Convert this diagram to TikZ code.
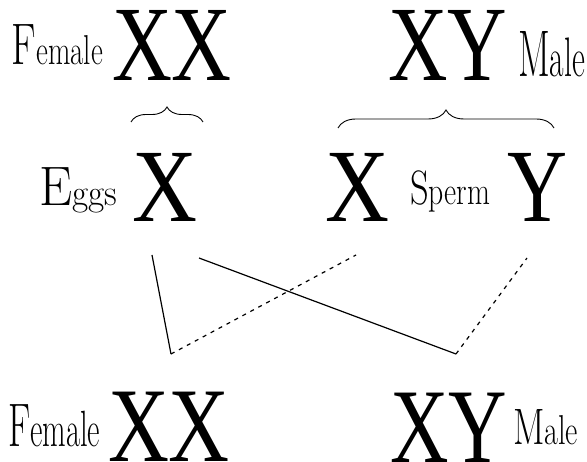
\documentclass[tikz,border=0pt]{standalone}
\usepackage{fontspec}
\usepackage{graphicx}
\usetikzlibrary{decorations.pathreplacing}
\newfontfamily\chromfont{Liberation Serif}
\newcommand{\fsz}[1]{\fontsize{#1}{#1}\selectfont}
\newcommand{\lbl}[5]{\resizebox{#1pt}{\height}{{\fsz{#2}#4}{\fsz{#3}#5}}}
\newcommand{\chrom}[3]{\resizebox{#1pt}{\height}{\chromfont\fsz{#2}#3}}
\begin{document}
\begin{tikzpicture}[x=1pt,y=-1pt,
  lab/.style={anchor=base west,inner sep=0pt,outer sep=0pt},
  solidline/.style={line width=1.2pt},
  dashline/.style={line width=1.2pt,dash pattern=on 4pt off 5pt},
  bracedeco/.style={line width=0.9pt,decorate,decoration={brace,amplitude=#1}}]
\useasboundingbox (0,0) rectangle (587,462);
% top row
\node[lab] (f1) at (12,65) {\lbl{91}{58.6}{41.8}{F}{emale}};
\node[lab] (xx1) at (112,81) {\chrom{120}{107}{XX}};
\node[lab] (xy1) at (388,81) {\chrom{119}{107}{XY}};
\node[lab] (m1) at (518,77) {\lbl{67}{65.9}{55.7}{M}{ale}};
% braces
\coordinate (b1l) at (131,122);
\coordinate (b1r) at (203,122);
\coordinate (b2l) at (338,128);
\coordinate (b2r) at (554,128);
\draw[bracedeco=15pt] (b1l) -- (b1r);
\draw[bracedeco=18pt] (b2l) -- (b2r);
% middle row
\node[lab] (eg) at (39,206) {\lbl{78}{55.6}{37.1}{E}{ggs}};
\node[lab] (ex) at (132,222) {\chrom{65}{104}{X}};
\node[lab] (sx) at (325,222) {\chrom{64}{104}{X}};
\node[lab] (sp) at (410,205) {\lbl{80}{48.3}{39.4}{S}{perm}};
\node[lab] (sy) at (507,222) {\chrom{60}{104}{Y}};
% bottom row
\node[lab] (f2) at (8,447) {\lbl{92}{61.5}{51}{F}{emale}};
\node[lab] (xx2) at (108,462) {\chrom{122}{106}{XX}};
\node[lab] (xy2) at (390,463) {\chrom{117}{106}{XY}};
\node[lab] (m2) at (513,445) {\lbl{65}{51.2}{41.8}{M}{ale}};
% connector ends
\coordinate (e1) at (152,255);
\coordinate (e2) at (199,258);
\coordinate (s1) at (356,255);
\coordinate (s2) at (527,258);
\coordinate (zf) at (171,354);
\coordinate (zm) at (456,354);
\draw[solidline] (e1) -- (zf);
\draw[dashline] (zf) -- (s1);
\draw[solidline] (e2) -- (zm);
\draw[dashline] (zm) -- (s2);
\end{tikzpicture}
\end{document}
